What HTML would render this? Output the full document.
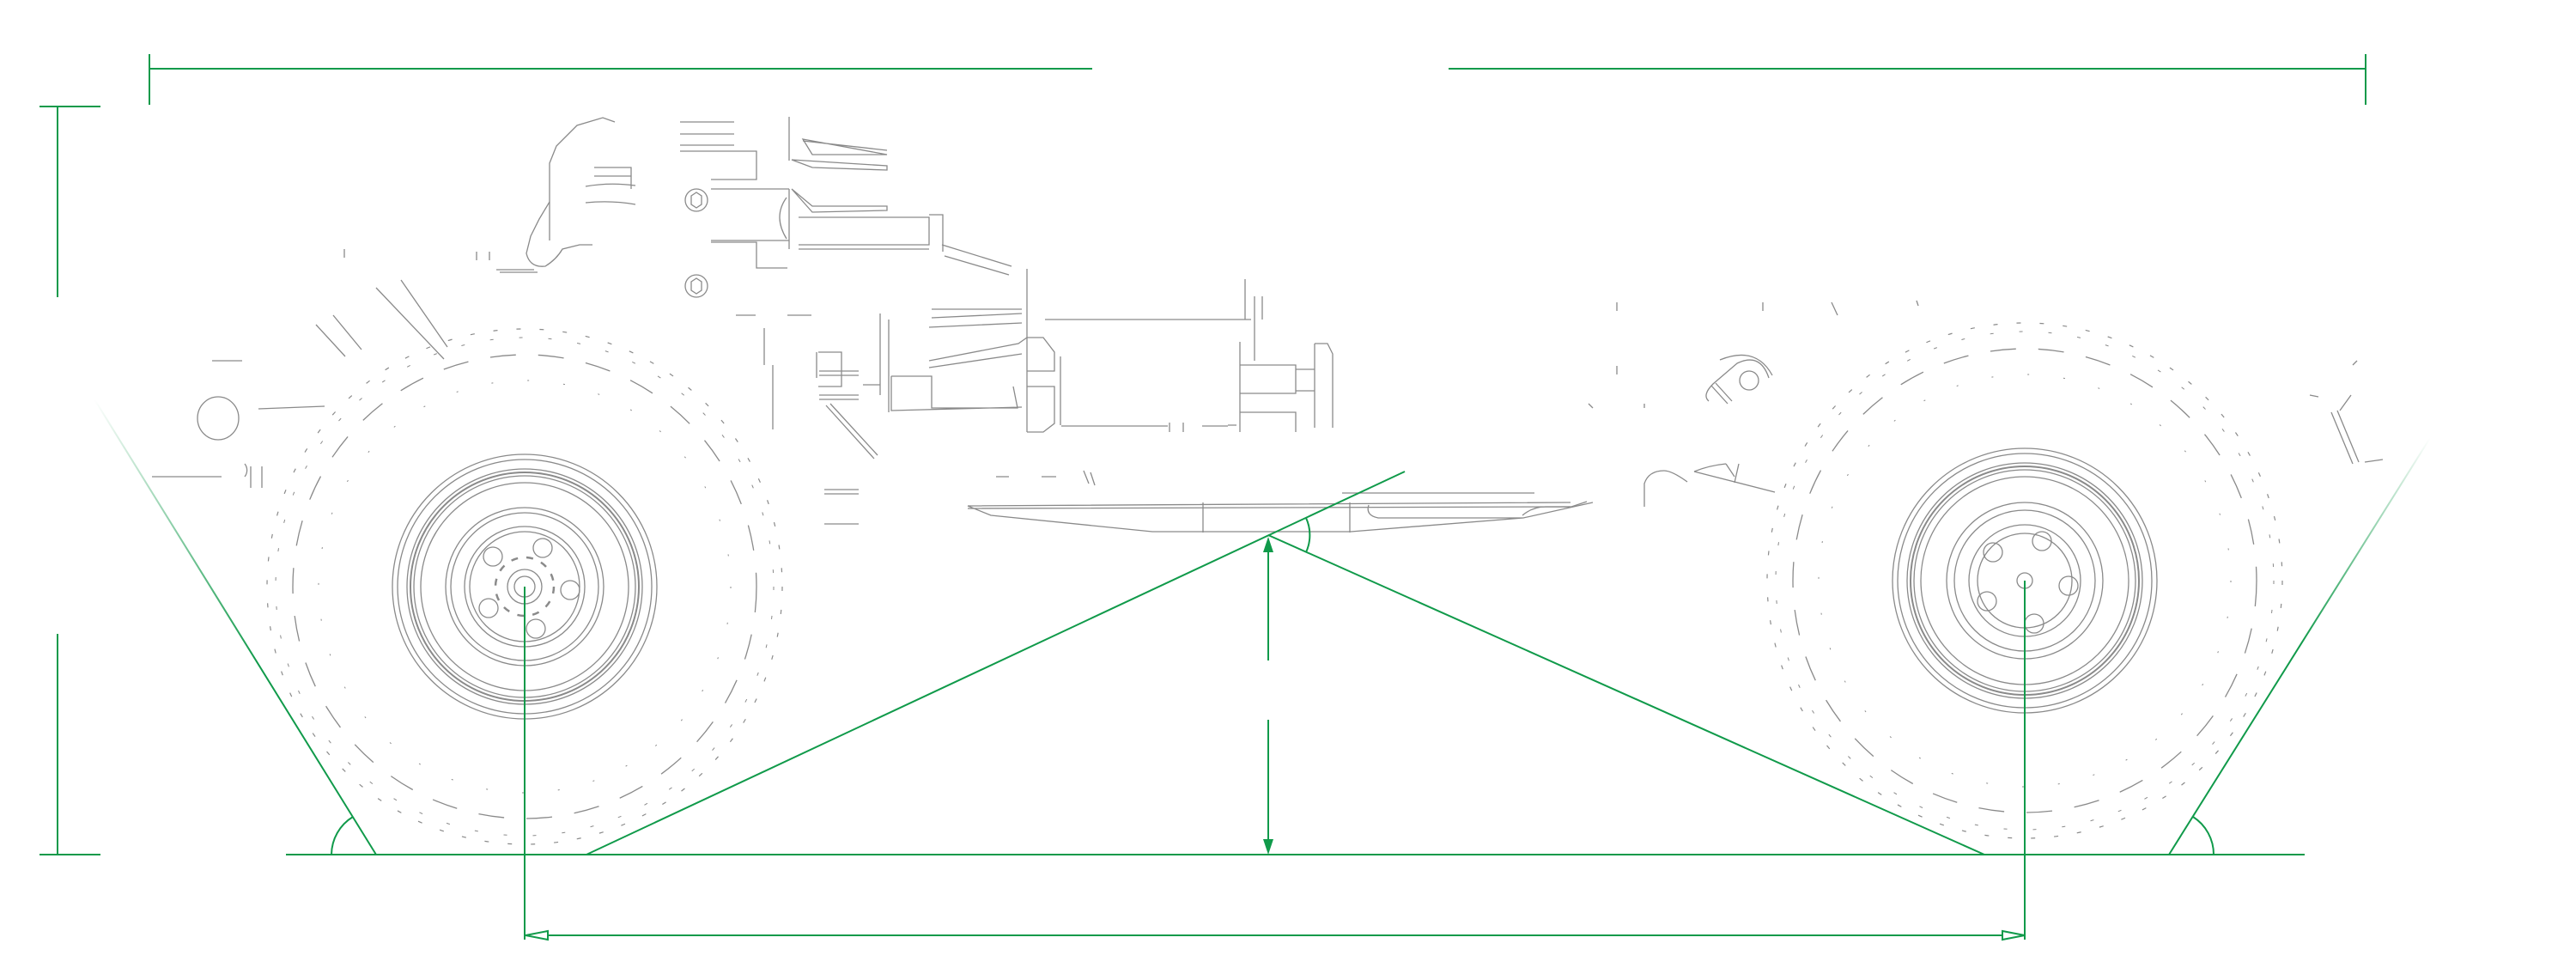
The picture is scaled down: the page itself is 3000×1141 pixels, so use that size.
<!DOCTYPE html>
<html><head><meta charset="utf-8"><style>html,body{margin:0;padding:0;background:#fff}svg{display:block}</style></head>
<body>
<svg width="3000" height="1141" viewBox="0 0 3000 1141" xmlns="http://www.w3.org/2000/svg">
<defs>
<linearGradient id="gl" gradientUnits="userSpaceOnUse" x1="110" y1="465" x2="300" y2="770">
<stop offset="0" stop-color="#109a4a" stop-opacity="0"/><stop offset="1" stop-color="#109a4a" stop-opacity="1"/></linearGradient>
<linearGradient id="gr" gradientUnits="userSpaceOnUse" x1="2830" y1="510" x2="2680" y2="750">
<stop offset="0" stop-color="#109a4a" stop-opacity="0"/><stop offset="1" stop-color="#109a4a" stop-opacity="1"/></linearGradient>
</defs>

<!-- ===== GRAY CAR LINEWORK ===== -->
<g fill="none" stroke="#8a8a8a" stroke-width="1.3">
<!-- front wheel -->
<g transform="translate(611,683)">
<circle r="154"/><circle r="148"/><circle r="137"/><circle r="133" stroke-width="2"/><circle r="129"/><circle r="121"/>
<circle r="92"/><circle r="86"/><circle r="70"/><circle r="64"/><circle r="20"/><circle r="12"/>
<circle cx="21" cy="-45" r="11"/><circle cx="53" cy="4" r="11"/><circle cx="13" cy="49" r="11"/><circle cx="-42" cy="25" r="11"/><circle cx="-37" cy="-35" r="11"/>
<circle r="34" stroke-dasharray="8 10" stroke-width="2.5"/>
<circle r="300" stroke-dasharray="5 22" stroke-width="1.2"/>
<circle r="290" stroke-dasharray="4 30" stroke-width="1"/>
<circle r="270" stroke-dasharray="30 26"/>
<circle r="240" stroke-dasharray="2 40" stroke-width="1"/>
</g>
<!-- rear wheel -->
<g transform="translate(2358,676)">
<circle r="154"/><circle r="148"/><circle r="137"/><circle r="133" stroke-width="2"/><circle r="129"/><circle r="121"/>
<circle r="91"/><circle r="82"/><circle r="65"/><circle r="55"/><circle r="9"/>
<circle cx="20" cy="-46" r="11"/><circle cx="51" cy="6" r="11"/><circle cx="11" cy="50" r="11"/><circle cx="-44" cy="24" r="11"/><circle cx="-37" cy="-33" r="11"/>
<circle r="300" stroke-dasharray="5 22" stroke-width="1.2"/>
<circle r="290" stroke-dasharray="4 30" stroke-width="1"/>
<circle r="270" stroke-dasharray="30 26"/>
<circle r="240" stroke-dasharray="2 40" stroke-width="1"/>
</g>

<!-- left front bits -->
<ellipse cx="254" cy="487" rx="24" ry="25"/>
<path d="M301,476 L378,473 M177,555 L258,555 M247,420 L282,420 M285,540 A12,12 0 0 1 285,555 M292,543 L292,568 M305,543 L305,568"/>
<path d="M438,335 L517,418 M467,326 L521,404 M368,378 L402,415 M388,367 L421,407"/>
<path d="M401,290 L401,300 M555,293 L555,303 M570,293 L570,303 M582,317 L626,317 M578,314 L622,314"/>

<!-- nose / front wing -->
<path d="M640,280 L640,190 L648,170 L672,146 L702,137 L716,142"/>
<path d="M640,235 L628,255 L618,275 L613,295 Q617,312 635,310 Q648,302 655,290 L675,285 L690,285"/>
<path d="M682,217 Q710,212 740,216 M682,236 Q712,233 740,238 M692,195 L735,195 L735,220 M692,205 L735,205"/>
<path d="M792,142 L855,142 M792,156 L855,156 M792,169 L855,169 M792,176 L881,176 L881,209 L828,209 M828,220 L919,220 M828,280 L919,280 M828,282 L881,282 L881,312 L917,312"/>
<path d="M919,136 L919,187 M919,220 L919,290 M916,230 Q900,252 916,278"/>
<circle cx="811" cy="233" r="13"/><circle cx="811" cy="333" r="13"/>
<path d="M805,228 L811,224 L817,228 L817,238 L811,242 L805,238 Z M805,328 L811,324 L817,328 L817,338 L811,342 L805,338 Z"/>
<path d="M935,162 L946,180 L1033,180 Z M935,164 L1033,175 M922,186 L1033,193 L1033,198 L946,195 Z M922,220 L946,240 L1033,240 L1033,245 L946,247 Z"/>
<path d="M930,253 L1082,253 L1082,285 L930,285 M930,290 L1082,290 M1082,250 L1098,250 L1098,293 M1097,285 L1178,310 M1100,298 L1175,320"/>
<path d="M1085,360 L1190,360 M1085,370 L1190,365 M1082,381 L1190,376 M1196,313 L1196,503 M1217,372 L1457,372 M1450,325 L1450,372 M1461,345 L1461,420 M1470,345 L1470,372"/>
<path d="M1082,420 L1186,400 L1196,393 M1082,428 L1190,412 M1038,438 L1085,438 L1085,475 L1185,475 L1180,450 M1038,438 L1038,478 L1190,474"/>
<path d="M1196,393 L1215,393 L1228,410 L1228,432 L1196,432 M1196,450 L1228,450 L1228,493 L1215,503 L1196,503 M1235,415 L1235,495"/>
<path d="M1035,372 L1035,480 M1025,365 L1025,460 M953,410 L980,410 L980,450 L953,450 M951,410 L951,440 M890,382 L890,425 M900,425 L900,500 M1005,448 L1025,448 M967,470 L1022,530 M962,472 L1018,534"/>
<path d="M954,460 L1000,460 M954,465 L1000,465 M954,432 L1000,432 M954,437 L1000,437 M857,367 L880,367 M917,367 L945,367"/>
<path d="M1444,398 L1444,503 M1444,425 L1509,425 L1509,458 L1444,458 M1509,430 L1531,430 M1509,455 L1531,455 M1531,400 L1531,498 M1531,400 L1546,400 L1552,412 L1552,498 M1444,480 L1509,480 L1509,503 M1440,495 L1430,495"/>
<path d="M1236,496 L1360,496 M1362,492 L1362,503 M1378,492 L1378,503 M1400,496 L1430,496"/>
<path d="M1160,555 L1175,555 M1213,555 L1230,555 M1270,550 L1275,565 M1262,548 L1268,563 M960,570 L1000,570 M960,610 L1000,610 M960,575 L1000,575"/>
<!-- floor -->
<path d="M1127,589 L1829,585 M1127,589 L1154,600 L1342,619 L1573,619 L1774,603 L1855,585 M1127,592 L1829,590 M1401,585 L1401,620 M1572,585 L1572,620 M1563,574 L1787,574 M1594,588 Q1590,600 1605,603 L1774,603"/>
<path d="M1773,600 Q1785,590 1800,590 L1830,590 L1848,584"/>
<!-- rear area -->
<circle cx="2037" cy="443" r="11"/>
<path d="M1990,467 Q1982,460 1995,447 L2023,423 Q2050,410 2060,440 M1993,449 L2012,470 M1998,446 L2017,467 M2003,419 Q2045,402 2064,437"/>
<path d="M1915,590 L1915,563 Q1920,548 1938,548 Q1947,548 1965,561 M1973,549 L2067,573 M1973,549 Q1990,542 2010,540 M2010,540 L2020,555 M2025,540 L2020,562"/>
<path d="M1883,352 L1883,362 M1883,426 L1883,436 M2053,352 L2053,362 M2133,352 L2140,367 M2232,350 L2234,356 M1850,470 L1855,475 M1915,470 L1915,475"/>
<path d="M2715,480 L2740,540 M2722,478 L2747,538 M2725,478 L2738,460 M2754,538 L2775,535"/>
<path d="M2690,460 L2700,462 M2740,425 L2745,420"/>
</g>

<!-- ===== GREEN DIMENSION LINES ===== -->
<g fill="none" stroke="#109a4a" stroke-width="2">
<path d="M174,80 L1272,80 M1687,80 L2755,80 M174,63 L174,122 M2755,63 L2755,122"/>
<path d="M46,124 L117,124 M67,124 L67,346 M67,738 L67,995 M46,995 L117,995"/>
<path d="M333,995 L2684,995"/>
<path d="M438,995 L110,465" stroke="url(#gl)"/>
<path d="M2526,995 L2830,510" stroke="url(#gr)"/>
<path d="M386,995 A52,52 0 0 1 411,951"/>
<path d="M2578,995 A52,52 0 0 0 2554,951"/>
<path d="M683,995 L1636,549"/>
<path d="M1477,623 L2311,995"/>
<path d="M1521,603 A48,48 0 0 1 1521,643"/>
<path d="M1477,640 L1477,769 M1477,838 L1477,980"/>
<path d="M611,683 L611,1094 M2358,676 L2358,1094"/>
<path d="M638,1089 L2332,1089"/>
<path d="M612,1089 L638,1084 L638,1094 Z M2358,1089 L2332,1084 L2332,1094 Z"/>
</g>
<g fill="#109a4a" stroke="none">
<path d="M1477,625 L1471,643 L1483,643 Z"/>
<path d="M1477,995 L1471,977 L1483,977 Z"/>
</g>
</svg>
</body></html>
